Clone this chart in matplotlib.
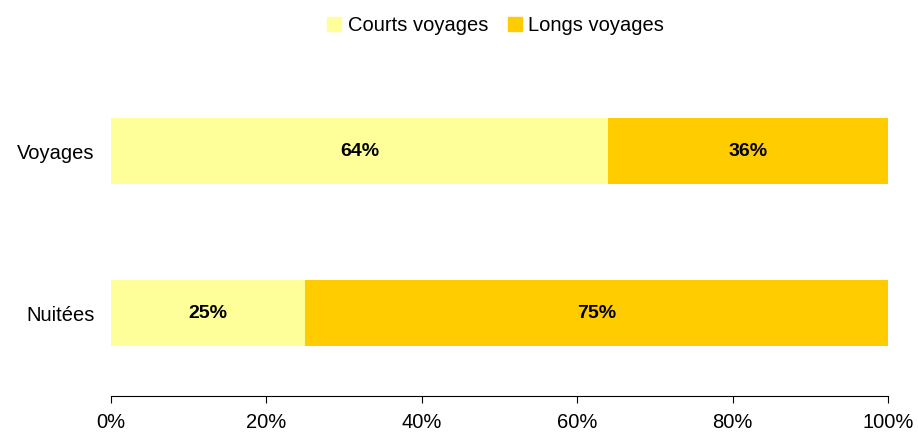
import matplotlib.pyplot as plt
from matplotlib.patches import Patch

plt.rcParams['font.family'] = ['Liberation Sans', 'DejaVu Sans']

categories = ["Nuitées", "Voyages"]
courts = [25, 64]
longs = [75, 36]
series_names = ["Courts voyages", "Longs voyages"]
ticks = [0, 20, 40, 60, 80, 100]
tick_labels = ["0%", "20%", "40%", "60%", "80%", "100%"]

col_courts = "#FFFF99"
col_longs = "#FFCC00"

fig = plt.figure(figsize=(9.18, 4.34), dpi=100)
ax = fig.add_axes([0.1209, 0.0876, 0.8464, 0.751])

y = list(range(len(categories)))
ax.barh(y, courts, height=0.41, color=col_courts)
ax.barh(y, longs, left=courts, height=0.41, color=col_longs)

for i in y:
    ax.text(courts[i] / 2, i, f"{courts[i]}%", ha="center", va="center",
            fontsize=14, fontweight="bold")
    ax.text(courts[i] + longs[i] / 2, i, f"{longs[i]}%", ha="center", va="center",
            fontsize=14, fontweight="bold")

ax.set_xlim(0, 100)
ax.set_ylim(-0.512, 1.5)
ax.set_xticks(ticks)
ax.set_xticklabels(tick_labels, fontsize=14.5)
ax.set_yticks(y)
ax.set_yticklabels(categories, fontsize=14.5)
ax.tick_params(axis="y", length=0, pad=12)
ax.tick_params(axis="x", direction="out", length=5, pad=7)

for s in ["top", "right", "left"]:
    ax.spines[s].set_visible(False)

handles = [Patch(color=col_courts), Patch(color=col_longs)]
fig.legend(handles, series_names, loc="upper center", bbox_to_anchor=(0.54, 1.005),
           ncol=2, frameon=False, fontsize=14.5, handlelength=0.7, handleheight=0.7,
           handletextpad=0.3, columnspacing=1.0)

fig.savefig("out.png", dpi=100)
